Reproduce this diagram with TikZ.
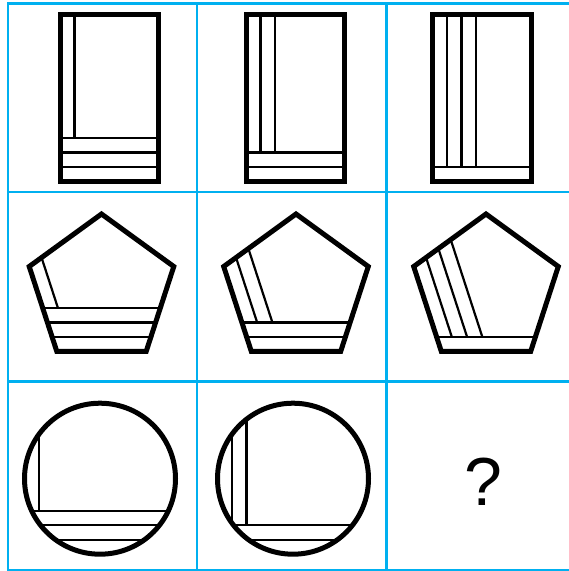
\documentclass[tikz,border=0pt]{standalone}
\usepackage{fontspec}
\newfontfamily\qfont{Liberation Sans}
\usetikzlibrary{calc}
\definecolor{cellblue}{HTML}{00B0F0}
\definecolor{inkblack}{HTML}{000000}

\begin{document}
\begin{tikzpicture}[
    x=1pt, y=-1pt,
    outline/.style={inkblack, line width=5pt, line join=miter},
    stripe/.style={inkblack, line width=2.2pt},
    cellline/.style={cellblue, line width=2.2pt, line cap=rect},
    qmark/.style={inner sep=0pt, font=\qfont\fontsize{68}{72}\selectfont},
  ]
  \useasboundingbox (0,0) rectangle (569,571);

  % ===== Grid =====
  \foreach \gx in {8,197,386.5}
    \draw[cellline] (\gx,3.5) -- (\gx,570);
  \foreach \gy in {3.5,192,381.5,570}
    \draw[cellline] (8,\gy) -- (572,\gy);

  % ===== Row 1: rectangles =====
  \foreach \xa/\xb/\nv in {60/158/1, 246/344/2, 432.5/531/3} {
    \pgfmathtruncatemacro\nh{4-\nv}
    \pgfmathsetmacro\ytop{181.5-\nh*14.5}
    \foreach \k in {1,...,\nh}
      \draw[stripe] (\xa,181.5-\k*14.5) -- (\xb,181.5-\k*14.5);
    \foreach \k in {1,...,\nv}
      \draw[stripe] (\xa+\k*14.5,14.5) -- (\xa+\k*14.5,\ytop);
    \draw[outline] (\xa,14.5) rectangle (\xb,181.5);
  }

  % ===== Row 2: pentagons =====
  \foreach \cx/\ns in {101.5/1, 296/2, 486/3} {
    \pgfmathtruncatemacro\nh{4-\ns}
    \pgfmathsetmacro\ytop{351.5-\nh*14.5}
    \path (\cx,290) +(-90:76) coordinate (pt) +(-18:76) coordinate (pr)
      +(54:76) coordinate (pbr) +(126:76) coordinate (pbl) +(198:76) coordinate (pl);
    \begin{scope}
      \clip (pt) -- (pr) -- (pbr) -- (pbl) -- (pl) -- cycle;
      \foreach \k in {1,...,\nh}
        \draw[stripe] (\cx-90,351.5-\k*14.5) -- (\cx+90,351.5-\k*14.5);
      \clip (\cx-90,200) rectangle (\cx+90,\ytop);
      \foreach \k in {1,...,\ns}
        \draw[stripe] ($(pl)+(-18:\k*14.5)+(252:40)$) -- ++(72:160);
    \end{scope}
    \draw[outline] (pt) -- (pr) -- (pbr) -- (pbl) -- (pl) -- cycle;
  }

  % ===== Row 3: circles =====
  \foreach \cx/\nv in {100/1, 293/2} {
    \pgfmathtruncatemacro\nh{4-\nv}
    \pgfmathsetmacro\ytop{554.2-\nh*14.5}
    \begin{scope}
      \clip (\cx,478.7) circle (75.5);
      \foreach \k in {1,...,\nh}
        \draw[stripe] (\cx-80,554.2-\k*14.5) -- (\cx+80,554.2-\k*14.5);
      \clip (\cx-80,395) rectangle (\cx+80,\ytop);
      \foreach \k in {1,...,\nv}
        \draw[stripe] (\cx-75.5+\k*14.5,395) -- (\cx-75.5+\k*14.5,\ytop);
    \end{scope}
    \draw[outline] (\cx,478.7) circle (75.5);
  }

  % ===== Missing cell =====
  \node[qmark] (ask) at (483.3,481.7) {?};

\end{tikzpicture}
\end{document}
